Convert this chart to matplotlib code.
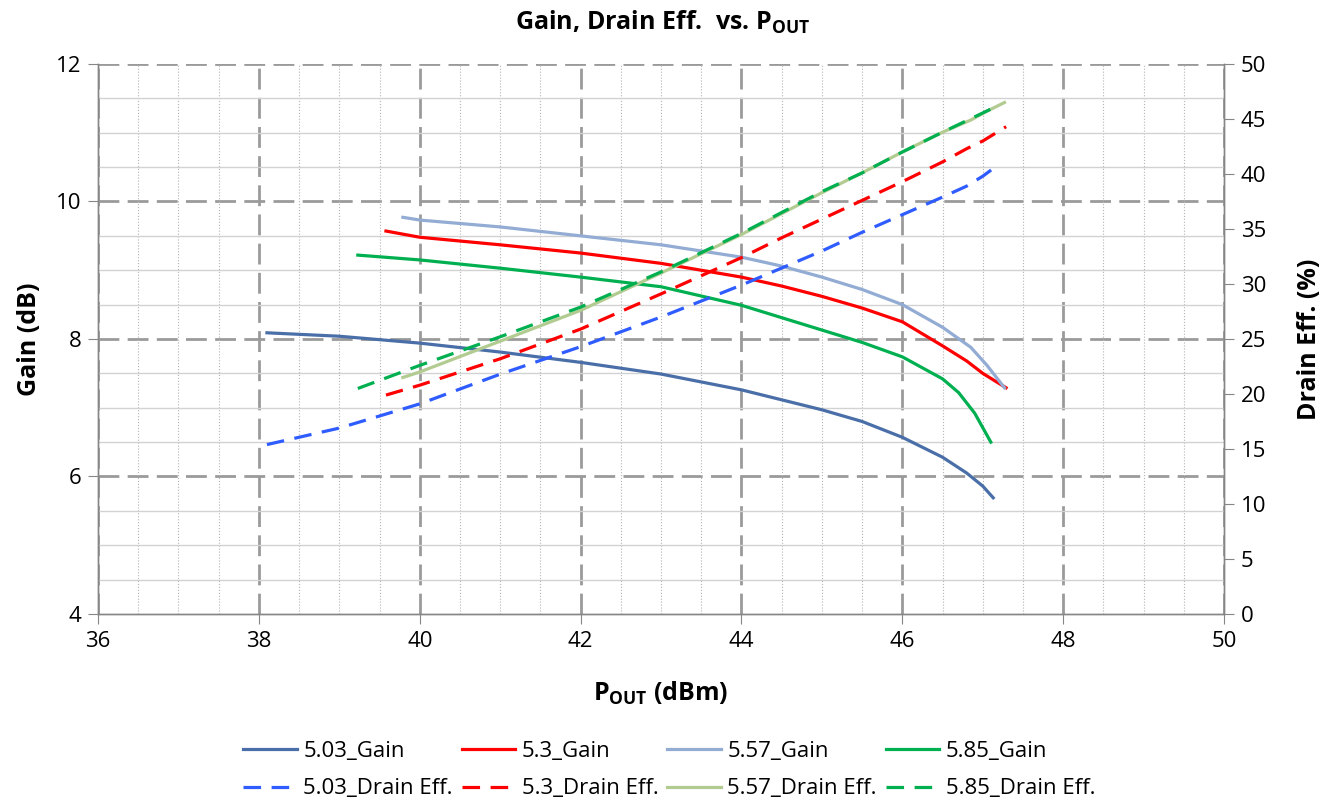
import numpy as np
import matplotlib.pyplot as plt
from matplotlib.ticker import MultipleLocator

plt.rcParams['font.family'] = ['Open Sans', 'DejaVu Sans']
plt.rcParams['mathtext.fontset'] = 'custom'
plt.rcParams['mathtext.rm'] = 'Open Sans'
plt.rcParams['mathtext.bf'] = 'Open Sans:bold'

#%% Data (Pout in dBm, gain in dB, drain eff. in %)
pout_503 = [38.1, 39.0, 40.0, 41.0, 42.0, 43.0, 44.0, 45.0, 45.5, 46.0, 46.5, 46.8, 47.0, 47.13]
gain_503 = [8.09, 8.04, 7.94, 7.81, 7.66, 7.49, 7.26, 6.97, 6.80, 6.57, 6.28, 6.05, 5.86, 5.69]
eff_503 = [15.4, 16.9, 19.1, 21.8, 24.3, 27.0, 29.9, 33.0, 34.7, 36.3, 37.9, 38.9, 39.8, 40.5]

pout_53 = [39.58, 40.0, 41.0, 42.0, 43.0, 44.0, 44.5, 45.0, 45.5, 46.0, 46.5, 46.8, 47.0, 47.29]
gain_53 = [9.57, 9.48, 9.37, 9.25, 9.10, 8.90, 8.77, 8.62, 8.45, 8.25, 7.90, 7.68, 7.50, 7.29]
eff_53 = [19.9, 20.8, 23.2, 25.9, 29.1, 32.4, 34.2, 35.9, 37.6, 39.3, 41.1, 42.3, 43.0, 44.3]

pout_557 = [39.79, 40.0, 41.0, 42.0, 43.0, 44.0, 44.5, 45.0, 45.5, 46.0, 46.5, 46.85, 47.05, 47.27]
gain_557 = [9.77, 9.73, 9.63, 9.50, 9.37, 9.19, 9.06, 8.90, 8.72, 8.50, 8.17, 7.88, 7.62, 7.29]
eff_557 = [21.5, 22.0, 24.8, 27.6, 31.0, 34.5, 36.4, 38.3, 40.1, 42.0, 43.8, 44.9, 45.7, 46.5]

pout_585 = [39.23, 40.0, 41.0, 42.0, 43.0, 44.0, 45.0, 45.5, 46.0, 46.5, 46.7, 46.9, 47.1]
gain_585 = [9.22, 9.15, 9.03, 8.90, 8.76, 8.49, 8.13, 7.95, 7.74, 7.42, 7.22, 6.92, 6.50]
eff_585 = [20.5, 22.6, 25.2, 27.9, 31.1, 34.6, 38.4, 40.1, 42.0, 43.8, 44.5, 45.2, 45.9]

gain_names = ['5.03_Gain', '5.3_Gain', '5.57_Gain', '5.85_Gain']
eff_names = ['5.03_Drain Eff.', '5.3_Drain Eff.', '5.57_Drain Eff.', '5.85_Drain Eff.']

#%% Plot
fig = plt.figure(figsize=(13.41, 8.05), dpi=100)
ax = fig.add_axes([0.0731, 0.2373, 0.8397, 0.6832])
ax2 = ax.twinx()

grid_col = '#9a9a9a'
axis_col = '#868686'
grid_dash = (0, (7.5, 3))

ax.set_xlim(36, 50)
ax.set_ylim(4, 12)
ax2.set_ylim(0, 50)
ax.xaxis.set_major_locator(MultipleLocator(2))
ax.xaxis.set_minor_locator(MultipleLocator(0.5))
ax.yaxis.set_major_locator(MultipleLocator(2))
ax.yaxis.set_minor_locator(MultipleLocator(0.5))
ax2.yaxis.set_major_locator(MultipleLocator(5))

ax.grid(which='minor', axis='x', linestyle=':', color='#b4b4b4', linewidth=0.8)
ax.grid(which='minor', axis='y', linestyle='-', color='#d2d2d2', linewidth=1.0)
ax.grid(which='major', axis='x', linestyle=grid_dash, color=grid_col, linewidth=2.0)
# horizontal major grid, but not on top of the bottom axis line
for yv in [6, 8, 10, 12]:
    ax.axhline(yv, linestyle=grid_dash, color=grid_col, linewidth=2.0, zorder=0.5)
ax.set_axisbelow(True)

for a in (ax, ax2):
    for s in a.spines.values():
        s.set_color(axis_col)
        s.set_linewidth(1.0)
    a.spines['top'].set_visible(False)
ax.tick_params(which='major', direction='out', length=7, color=axis_col, labelsize=16, pad=5)
ax.tick_params(which='minor', length=0)
ax2.tick_params(direction='out', length=7, color=axis_col, labelsize=16, pad=5)

lw = 2.3
dash = (0, (5.5, 3.3))
g1, = ax.plot(pout_503, gain_503, color='#4a6fa8', lw=lw, label=gain_names[0])
g2, = ax.plot(pout_53, gain_53, color='#ff0000', lw=lw, label=gain_names[1])
g3, = ax.plot(pout_557, gain_557, color='#93acd4', lw=lw, label=gain_names[2])
g4, = ax.plot(pout_585, gain_585, color='#00b050', lw=lw, label=gain_names[3])
d1, = ax2.plot(pout_503, eff_503, color='#2f5cff', lw=lw, ls=dash, label=eff_names[0])
d2, = ax2.plot(pout_53, eff_53, color='#ff0000', lw=lw, ls=dash, label=eff_names[1])
d3, = ax2.plot(pout_557, eff_557, color='#b2cb90', lw=lw, label=eff_names[2])
d4, = ax2.plot(pout_585, eff_585, color='#00b050', lw=lw, ls=dash, label=eff_names[3])

ax.set_xlabel(r'$\mathbf{P_{OUT}}$ (dBm)', fontsize=18, fontweight='bold', labelpad=20)
ax.set_ylabel('Gain (dB)', fontsize=18, fontweight='bold', labelpad=10)
ax2.set_ylabel('Drain Eff. (%)', fontsize=18, fontweight='bold', labelpad=22)
fig.text(0.494, 0.972, r'Gain, Drain Eff.  vs. $\mathbf{P_{OUT}}$', ha='center', va='center',
         fontsize=18, fontweight='bold')

fig.legend([g1, d1, g2, d2, g3, d3, g4, d4],
           [gain_names[0], eff_names[0], gain_names[1], eff_names[1],
            gain_names[2], eff_names[2], gain_names[3], eff_names[3]],
           loc='center', bbox_to_anchor=(0.499, 0.0435), ncol=4, frameon=False,
           fontsize=16, handlelength=2.4, handletextpad=0.3, columnspacing=0.4,
           labelspacing=0.75)

fig.savefig('out.png', dpi=100)
